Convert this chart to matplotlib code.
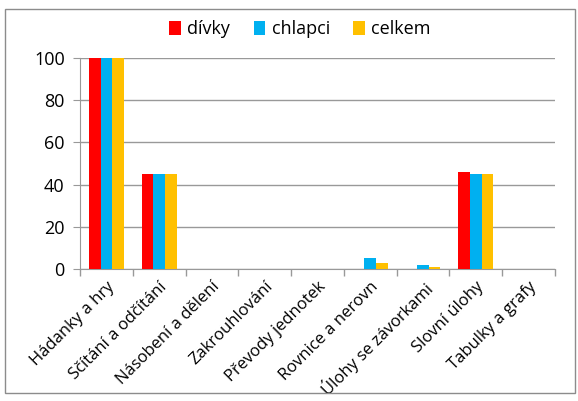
import matplotlib.pyplot as plt
import numpy as np
from matplotlib.patches import Rectangle

categories = [
    "Hádanky a hry",
    "Sčítání a odčítání",
    "Násobení a dělení",
    "Zakrouhlování",
    "Převody jednotek",
    "Rovnice a nerovn",
    "Úlohy se závorkami",
    "Slovní úlohy",
    "Tabulky a grafy",
]
divky = [100, 45, 0, 0, 0, 0, 0, 46, 0]
chlapci = [100, 45, 0, 0, 0, 5, 2, 45, 0]
celkem = [100, 45, 0, 0, 0, 3, 1, 45, 0]
series_names = ["dívky", "chlapci", "celkem"]
colors = ["#FF0000", "#00B0F0", "#FFC000"]

plt.rcParams["font.family"] = ["Open Sans", "DejaVu Sans"]

fig = plt.figure(figsize=(5.78, 4.01), dpi=100)
ax = fig.add_axes([80 / 578, 1 - 269 / 401, 475 / 578, 211 / 401])

x = np.arange(len(categories))
w = 0.22
for i, (vals, name, c) in enumerate(zip([divky, chlapci, celkem], series_names, colors)):
    ax.bar(x + (i - 1) * w, vals, width=w, color=c, label=name, zorder=3)

ax.set_xlim(-0.5, len(categories) - 0.5)
ax.set_ylim(0, 100)
ax.set_yticks(range(0, 101, 20))
ax.yaxis.grid(True, color="#999999", linewidth=1)
ax.set_axisbelow(True)

ax.set_xticks(x)
ax.set_xticklabels(categories, rotation=45, ha="right", rotation_mode="anchor", fontsize=12)
ax.tick_params(axis="x", length=0, pad=7)
ax.set_xticks(np.arange(-0.5, len(categories)), minor=True)
ax.tick_params(axis="x", which="minor", length=5, color="#999999", width=1)
ax.tick_params(axis="y", labelsize=13, length=5, color="#999999", pad=6)

for side in ["top", "right"]:
    ax.spines[side].set_visible(False)
for side in ["left", "bottom"]:
    ax.spines[side].set_color("#999999")

fig.legend(*ax.get_legend_handles_labels(), loc="center",
           bbox_to_anchor=(300 / 578, 1 - 29 / 401), ncol=3, frameon=False,
           fontsize=13, handlelength=0.65, handleheight=0.8, handletextpad=0.35,
           columnspacing=1.3)

fig.patches.append(Rectangle((5 / 578, 8 / 401), 570 / 578, 384 / 401,
                             transform=fig.transFigure, fill=False,
                             edgecolor="#8c8c8c", linewidth=1))

fig.savefig("out.png", dpi=100)
